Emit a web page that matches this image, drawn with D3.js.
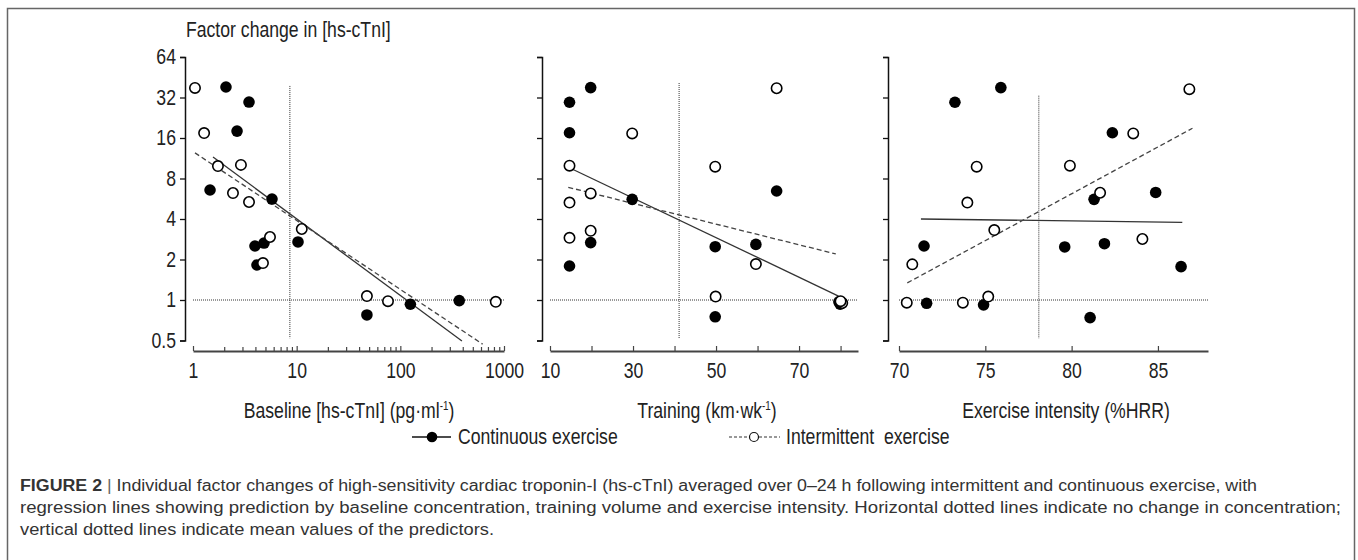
<!DOCTYPE html>
<html>
<head>
<meta charset="utf-8">
<script src="https://cdn.jsdelivr.net/npm/d3@7"></script>
<style>
  body { margin: 0; background: #fff; }
  svg { display: block; }
  .narrow text, text.narrow { font-family: "Liberation Sans", Arial, sans-serif; }
  .caption { font-family: "Liberation Sans", Arial, sans-serif; font-size: 16px; fill: #333; }
</style>
</head>
<body>
<script>
// ---- data ----

// factor change axis (log2)
const factorTicks = [0.5, 1, 2, 4, 8, 16, 32, 64];

// panel 1: baseline [hs-cTnI] (pg/ml)
const baselineCont = [2.08, 3.47, 2.66, 1.46, 5.78, 3.96, 4.84, 4.14, 10.3, 47.6, 125, 370];
const baselineContFactor = [38.3, 29.6, 18.0, 6.57, 5.63, 2.52, 2.65, 1.82, 2.7, 0.774, 0.93, 0.99];
const baselineInt = [1.045, 1.28, 1.74, 2.9, 2.43, 3.47, 5.53, 4.73, 11.2, 47.6, 76, 833];
const baselineIntFactor = [37.7, 17.4, 9.9, 10.1, 6.24, 5.35, 2.94, 1.88, 3.37, 1.07, 0.98, 0.97];
const baselineFitCont = [[1.56, 11.55], [393, 0.496]];
const baselineFitInt = [[1.045, 12.4], [622, 0.47]];
const baselineTicks = [1, 10, 100, 1000];

// panel 2: training (km/wk)
const trainingCont = [14.7, 19.8, 14.7, 29.8, 19.8, 14.7, 49.8, 59.6, 64.6, 49.8, 79.6, 79.9];
const trainingContFactor = [29.5, 37.9, 17.5, 5.6, 2.67, 1.79, 2.49, 2.59, 6.46, 0.75, 0.97, 0.93];
const trainingInt = [64.6, 29.8, 14.7, 49.8, 19.8, 14.7, 19.8, 14.7, 59.6, 49.9, 80.4, 80.0];
const trainingIntFactor = [37.5, 17.3, 9.97, 9.8, 6.2, 5.3, 3.27, 2.9, 1.85, 1.06, 0.95, 0.98];
const trainingFitCont = [[14.8, 9.58], [79.5, 1.07]];
const trainingFitInt = [[14.4, 6.88], [78.85, 2.2]];
const trainingTicks = [10, 20, 30, 40, 50, 60, 70, 80];
const trainingLabels = [10, 30, 50, 70];

// panel 3: exercise intensity (%HRR)
const intensityCont = [73.24, 75.9, 82.36, 84.87, 81.3, 71.45, 79.6, 81.9, 86.34, 71.6, 74.9, 81.07];
const intensityContFactor = [29.5, 37.9, 17.5, 6.3, 5.6, 2.52, 2.48, 2.62, 1.77, 0.945, 0.92, 0.74];
const intensityInt = [86.82, 83.57, 74.5, 79.9, 81.65, 73.96, 75.52, 84.1, 70.77, 70.45, 73.7, 75.17];
const intensityIntFactor = [36.9, 17.3, 9.8, 9.97, 6.27, 5.3, 3.31, 2.84, 1.84, 0.955, 0.955, 1.06];
const intensityFitCont = [[71.27, 4.0], [86.41, 3.78]];
const intensityFitInt = [[70.48, 1.34], [87.0, 18.9]];
const intensityTicks = [70, 75, 80, 85];

// vertical dotted lines: predictor means, drawn between these factor values
const predictorMeans = [8.6, 41.1, 78.1];
const meanLineTop = [39, 41, 33];
const meanLineBottom = 0.52;

const axisTitles = ["Baseline [hs-cTnI] (pg\u00b7ml", "Training (km\u00b7wk", "Exercise intensity (%HRR)"];

// ---- layout ----
const W = 1358, H = 560;
const NARROW = 0.82;   // Arial Narrow look: Arial squeezed horizontally
const FS = 21.5;

const svg = d3.select("body").append("svg").attr("width", W).attr("height", H);

// outer frame
svg.append("rect")
   .attr("x", 7.5).attr("y", 8.5)
   .attr("width", 1347).attr("height", 600)
   .attr("fill", "none").attr("stroke", "#666").attr("stroke-width", 1.5);

const y = d3.scaleLog().base(2).domain([0.5, 64]).range([340.5, 57]);
const xAxisY = 351;

// text placed at (px, py) and squeezed horizontally
function narrowText(parent, px, py) {
  return parent.append("text")
    .attr("x", px / NARROW).attr("y", py)
    .attr("transform", `scale(${NARROW},1)`)
    .attr("font-family", "Liberation Sans, Arial, sans-serif")
    .attr("font-size", FS).attr("fill", "#222");
}

const panels = [
  { yAxisX: 185, x: d3.scaleLog().domain([1, 1000]).range([193, 504]),
    cont: baselineCont, contF: baselineContFactor, int: baselineInt, intF: baselineIntFactor,
    fitC: baselineFitCont, fitI: baselineFitInt, title: axisTitles[0], sup: true, titleX: 349 },
  { yAxisX: 542, x: d3.scaleLinear().domain([10, 84.2]).range([550, 858]),
    cont: trainingCont, contF: trainingContFactor, int: trainingInt, intF: trainingIntFactor,
    fitC: trainingFitCont, fitI: trainingFitInt, title: axisTitles[1], sup: true, titleX: 707 },
  { yAxisX: 888, x: d3.scaleLinear().domain([70, 87.9]).range([899, 1208]),
    cont: intensityCont, contF: intensityContFactor, int: intensityInt, intF: intensityIntFactor,
    fitC: intensityFitCont, fitI: intensityFitInt, title: axisTitles[2], sup: false, titleX: 1066 }
];

const line = (x) => d3.line().x(d => x(d[0])).y(d => y(d[1]));

panels.forEach((p, i) => {
  const g = svg.append("g");
  const x = p.x;

  // y axis
  const yAxis = d3.axisLeft(y).tickValues(factorTicks).tickSizeInner(5).tickSizeOuter(5).tickPadding(6)
    .tickFormat(i === 0 ? (d => d) : "");
  const ya = g.append("g").attr("transform", `translate(${p.yAxisX},0)`).call(yAxis);
  ya.select(".domain").attr("stroke", "#111").attr("stroke-width", 1.5);
  ya.selectAll(".tick line").attr("stroke", "#111").attr("stroke-width", 1.3);
  ya.selectAll("text").attr("font-size", FS).attr("fill", "#222")
    .attr("font-family", "Liberation Sans, Arial, sans-serif")
    .attr("transform", `scale(${NARROW},1)`);

  // x axis
  let xAxis;
  if (i === 0) {
    xAxis = d3.axisBottom(x).tickValues(baselineTicks).tickFormat(d => d);
    const minor = [];
    [1, 10, 100].forEach(dec => { for (let k = 2; k <= 9; k++) minor.push(dec * k); });
    const mg = g.append("g").attr("transform", `translate(0,${xAxisY})`)
      .call(d3.axisBottom(x).tickValues(minor).tickSizeInner(-4).tickSizeOuter(0).tickFormat(""));
    mg.select(".domain").remove();
    mg.selectAll(".tick line").attr("stroke", "#444").attr("stroke-width", 1.2);
  } else if (i === 1) {
    xAxis = d3.axisBottom(x).tickValues(trainingTicks)
      .tickFormat(d => trainingLabels.includes(d) ? d : "");
  } else {
    xAxis = d3.axisBottom(x).tickValues(intensityTicks).tickFormat(d => d);
  }
  xAxis.tickSizeInner(-5).tickSizeOuter(0).tickPadding(12);
  const xa = g.append("g").attr("transform", `translate(0,${xAxisY})`).call(xAxis);
  xa.select(".domain").attr("stroke", "#444").attr("stroke-width", 2.2);
  xa.selectAll(".tick line").attr("stroke", "#444").attr("stroke-width", 1.2);
  xa.selectAll("text").attr("font-size", FS).attr("fill", "#222")
    .attr("font-family", "Liberation Sans, Arial, sans-serif")
    .attr("transform", `scale(${NARROW},1)`);

  // reference dotted lines
  g.append("line")
    .attr("x1", x.range()[0]).attr("x2", x.range()[1])
    .attr("y1", y(1)).attr("y2", y(1))
    .attr("stroke", "#333").attr("stroke-width", 1).attr("stroke-dasharray", "1,1");
  g.append("line")
    .attr("x1", x(predictorMeans[i])).attr("x2", x(predictorMeans[i]))
    .attr("y1", y(meanLineTop[i])).attr("y2", y(meanLineBottom))
    .attr("stroke", "#333").attr("stroke-width", 1).attr("stroke-dasharray", "1,1");

  // regression lines
  g.append("path").datum(p.fitC).attr("d", line(x))
    .attr("fill", "none").attr("stroke", "#333").attr("stroke-width", 1.3);
  g.append("path").datum(p.fitI).attr("d", line(x))
    .attr("fill", "none").attr("stroke", "#444").attr("stroke-width", 1.3).attr("stroke-dasharray", "5,3");

  // points
  g.append("g").selectAll("circle").data(p.cont.map((v, k) => [v, p.contF[k]]))
    .join("circle")
    .attr("cx", d => x(d[0])).attr("cy", d => y(d[1])).attr("r", 5.8)
    .attr("fill", "#000");
  g.append("g").selectAll("circle").data(p.int.map((v, k) => [v, p.intF[k]]))
    .join("circle")
    .attr("cx", d => x(d[0])).attr("cy", d => y(d[1])).attr("r", 5.2)
    .attr("fill", "#fff").attr("stroke", "#000").attr("stroke-width", 1.6);

  // axis title
  const t = narrowText(g, p.titleX, 418).attr("text-anchor", "middle").text(p.title);
  if (p.sup) {
    t.append("tspan").attr("dy", -8).attr("font-size", 12).text("-1");
    t.append("tspan").attr("dy", 8).text(")");
  }
});

// y axis title
narrowText(svg, 186, 37).text("Factor change in [hs-cTnI]");

// legend
const leg = svg.append("g");
leg.append("line").attr("x1", 412).attr("x2", 451).attr("y1", 437).attr("y2", 437)
  .attr("stroke", "#111").attr("stroke-width", 1.5);
leg.append("circle").attr("cx", 432).attr("cy", 437).attr("r", 5.3).attr("fill", "#000");
narrowText(leg, 458, 444.5).text("Continuous exercise");
leg.append("line").attr("x1", 729).attr("x2", 780).attr("y1", 437).attr("y2", 437)
  .attr("stroke", "#333").attr("stroke-width", 1.2).attr("stroke-dasharray", "3,2");
leg.append("circle").attr("cx", 754).attr("cy", 437).attr("r", 4.5)
  .attr("fill", "#fff").attr("stroke", "#111").attr("stroke-width", 1.2);
narrowText(leg, 786, 444.5).style("white-space", "pre").text("Intermittent  exercise");

// caption
const captionLines = [
  "Individual factor changes of high-sensitivity cardiac troponin-I (hs-cTnI) averaged over 0\u201324 h following intermittent and continuous exercise, with",
  "regression lines showing prediction by baseline concentration, training volume and exercise intensity. Horizontal dotted lines indicate no change in concentration;",
  "vertical dotted lines indicate mean values of the predictors."
];
const captionWidths = [1237, 1321, 474];
const cap = svg.append("g").attr("class", "caption");
const first = cap.append("text").attr("x", 20).attr("y", 491)
  .attr("textLength", captionWidths[0]).attr("lengthAdjust", "spacingAndGlyphs");
first.append("tspan").attr("font-weight", "bold").text("FIGURE 2");
first.append("tspan").attr("fill", "#666").text(" | ");
first.append("tspan").text(captionLines[0]);
cap.append("text").attr("x", 20).attr("y", 513)
  .attr("textLength", captionWidths[1]).attr("lengthAdjust", "spacingAndGlyphs").text(captionLines[1]);
cap.append("text").attr("x", 20).attr("y", 535)
  .attr("textLength", captionWidths[2]).attr("lengthAdjust", "spacingAndGlyphs").text(captionLines[2]);
</script>
</body>
</html>
